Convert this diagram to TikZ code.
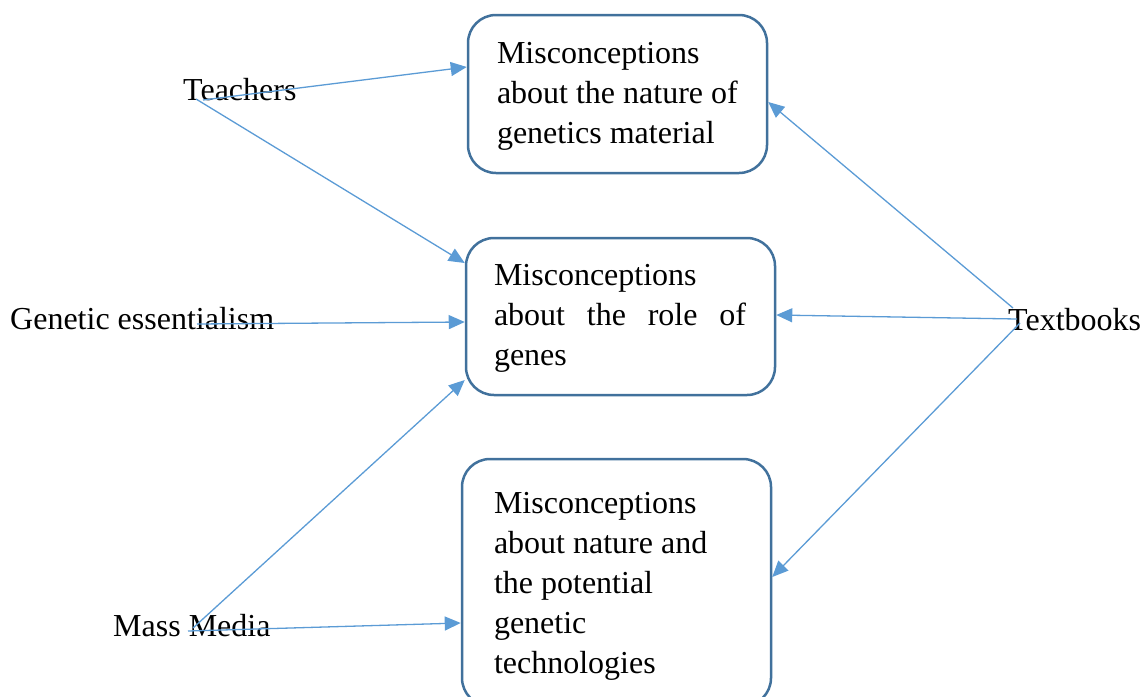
\documentclass[tikz,border=0pt]{standalone}
\usepackage{fontspec}
\setmainfont{Liberation Serif}
\usetikzlibrary{arrows.meta}
\definecolor{boxline}{HTML}{41719C}
\definecolor{linkblue}{HTML}{5B9BD5}
% top padding, left margin, text width, lines of the box text
\newcommand{\boxlines}[4]{\hspace*{#2}\parbox{#3}{\vspace*{#1}\raggedright #4}}
\tikzset{
  concept/.style={draw=boxline, line width=2.5pt, rounded corners=28pt,
    inner sep=0pt, font=\fontsize{32}{40}\selectfont},
  source/.style={inner sep=0pt, anchor=base west, font=\fontsize{32}{40}\selectfont},
  feed/.style={draw=linkblue, line width=1.3pt, -{Triangle[length=16pt,width=14pt]}},
}
\begin{document}
\begin{tikzpicture}[x=1pt, y=-1pt]
\useasboundingbox (0,0) rectangle (1147,696);

% the three groups of misconceptions
\node[concept, minimum width=299pt, minimum height=158pt] (b1) at (617.5,94)
  {\boxlines{4pt}{29pt}{270pt}{Misconceptions\\about the nature of\\genetics material}};
\node[concept, minimum width=309pt, minimum height=157pt] (b2) at (620.5,316.5)
  {\boxlines{3pt}{28pt}{281pt}{Misconceptions\\\makebox[252pt][s]{about the role of}\\genes}};
\node[concept, minimum width=309pt, minimum height=247pt] (b3) at (616.5,582.5)
  {\boxlines{8pt}{32pt}{277pt}{Misconceptions\\about nature and\\the potential\\genetic\\technologies}};

% sources
\node[source] (teach) at (183,100) {Teachers};
\node[source] (ess) at (10,329) {Genetic essentialism};
\node[source] (media) at (113,636) {Mass Media};
\node[source] (books) at (1008,330) {Textbooks};

% start points of the connectors
\coordinate (tA) at (203,100);
\coordinate (tB) at (196,99);
\coordinate (gA) at (197,324);
\coordinate (mA) at (193,628);
\coordinate (mB) at (188,631);
\coordinate (xA) at (1013,308);
\coordinate (xB) at (1017,319);
\coordinate (xC) at (1020,323);

\draw[feed] (tA) -- (b1.west |- 0,67);
\draw[feed] (tB) -- (b2.west |- 0,263);
\draw[feed] (gA) -- (b2.west |- 0,322);
\draw[feed] (mA) -- (b2.west |- 0,380);
\draw[feed] (mB) -- (b3.west |- 0,623);
\draw[feed] (xA) -- (b1.east |- 0,102);
\draw[feed] (xB) -- (b2.east |- 0,315);
\draw[feed] (xC) -- (b3.east |- 0,577);
\end{tikzpicture}
\end{document}
